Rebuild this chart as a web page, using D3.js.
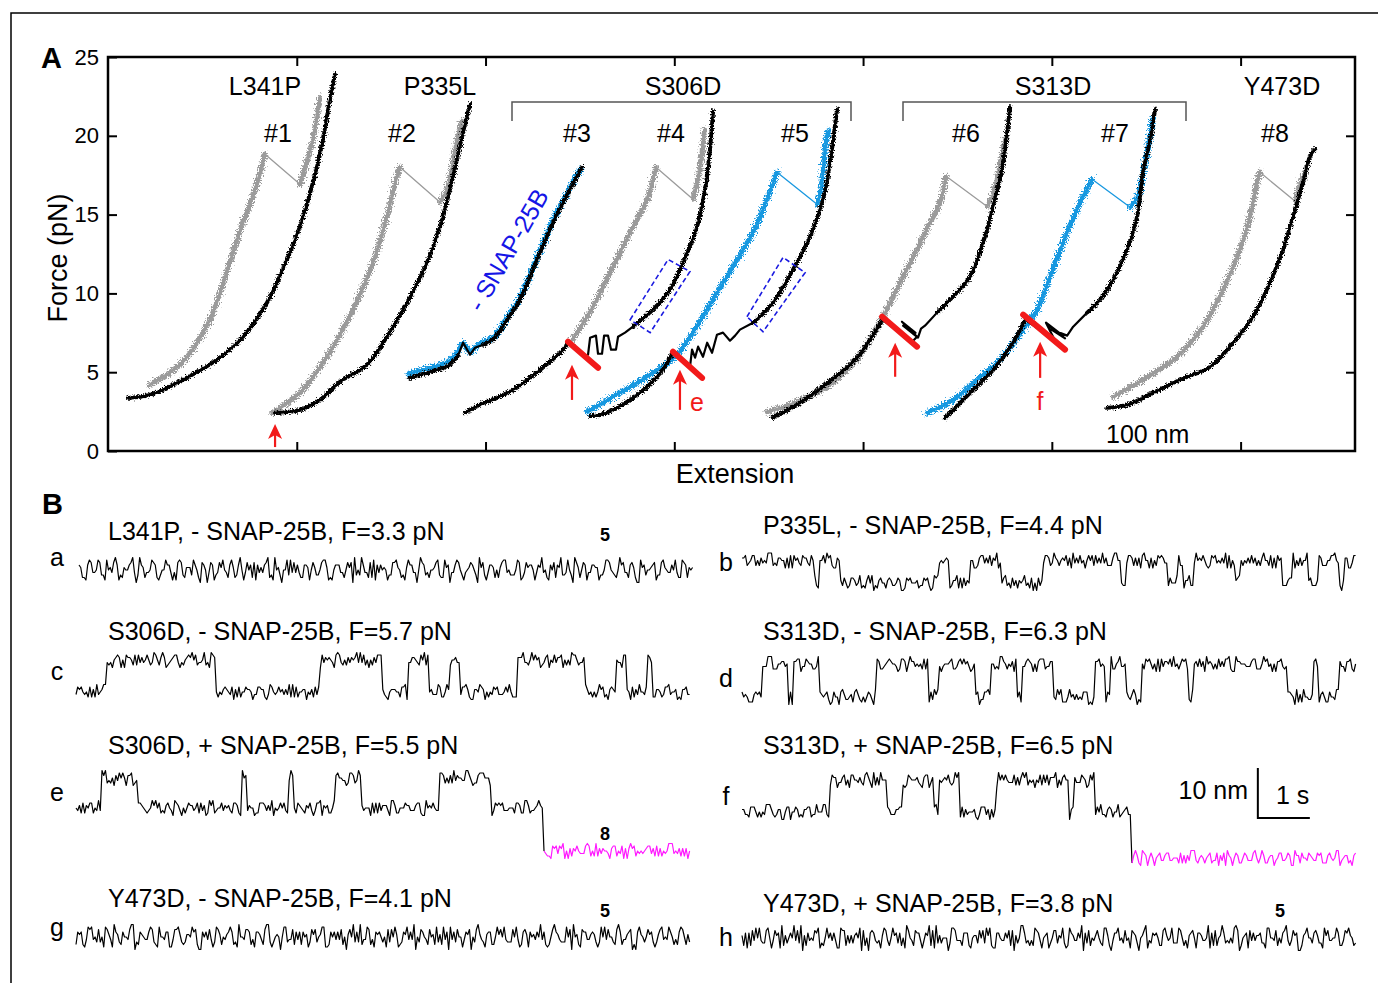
<!DOCTYPE html>
<html>
<head>
<meta charset="utf-8">
<script src="https://cdn.jsdelivr.net/npm/d3@7"></script>
<style>
  body { margin: 0; background: #fff; }
  text { font-family: "Liberation Sans", Arial, sans-serif; }
</style>
</head>
<body>
<div id="chart"></div>
<script>
// ---------- Panel A data: extension (nm) vs force (pN) ----------
const yTicks = [0, 5, 10, 15, 20, 25];
const xTicks = [100, 200, 300, 400, 500, 600];
const mutantLabels = ['L341P', 'P335L', 'S306D', 'S313D', 'Y473D'];
const curveLabels = ['#1', '#2', '#3', '#4', '#5', '#6', '#7', '#8'];

// pulling (black) traces: folded part, hopping part, unfolded part
const fec1Pull = [[10.6,3.37],[22.3,3.56],[39.7,4.52],[57.7,5.79],[71.5,7.25],[84.2,9.41],[94.8,12.15],[101.7,14.25],[108.6,17.05],[113.9,19.78],[117.6,22.33],[120.3,23.92]];
const fec2Pull = [[88.5,2.42],[101.7,2.61],[112.3,3.24],[122.9,4.39],[137.2,5.47],[147.8,7.25],[158.4,9.41],[169.0,11.96],[175.9,14.25],[182.8,17.43],[188.1,20.23],[191.8,22.01]];
const fec3PullA = [[160.0,4.64],[170.6,5.03],[180.1,5.41],[185.4,6.04]];
const fec3Hop = [[185.4,6.04],[188.1,6.87],[191.8,6.11],[194.4,6.55],[198.7,6.74]];
const fec3PullB = [[198.7,6.74],[205.0,7.19],[211.4,8.33],[218.3,9.61],[226.2,11.83],[235.8,14.50],[244.8,16.60],[251.1,18.00]];
const fec4PullA = [[189.1,2.42],[197.1,2.93],[214.6,3.88],[228.9,5.15],[241.1,6.43],[243.7,6.87]];
const fec4Hop = [[243.7,6.87],[252.7,5.98],[254.3,6.11],[255.4,7.19],[258.5,7.32],[259.6,6.17],[261.7,6.17],[262.8,7.32],[264.9,7.32],[266.5,6.43],[269.1,6.43],[270.2,7.25],[273.9,7.51],[278.1,7.89]];
const fec4PullB = [[278.1,7.89],[288.7,8.97],[297.7,10.24],[304.6,11.96],[312.1,14.25],[316.3,16.60],[318.9,19.15],[320.5,21.56]];
const fec5PullA = [[255.4,2.23],[260.7,2.29],[276.6,3.24],[290.9,4.71],[299.3,6.23]];
const fec5Hop = [[299.3,6.23],[308.3,5.34],[309.4,6.43],[311.0,5.92],[312.6,6.62],[315.2,5.98],[317.4,6.87],[320.0,6.23],[322.6,7.38],[325.8,7.51],[329.5,7.00],[332.2,7.32],[334.8,7.70],[341.7,8.14]];
const fec5PullB = [[341.7,8.14],[352.3,9.41],[362.9,11.51],[371.9,13.61],[378.8,15.97],[382.5,18.32],[386.2,21.69]];
const fec6PullA = [[351.8,2.10],[366.6,3.05],[382.5,4.45],[396.8,5.92],[410.1,8.33]];
const fec6Hop = [[410.1,8.33],[426.0,6.93],[428.6,7.25],[420.6,8.20],[427.8,7.50],[421.2,7.95],[429.1,7.20],[430.7,7.76],[432.8,7.95],[439.2,8.78]];
const fec6PullB = [[439.2,8.78],[444.5,9.41],[456.7,11.07],[463.6,13.23],[468.9,15.52],[473.6,17.88],[476.3,20.23],[477.9,21.82]];
const fec7PullA = [[443.4,2.10],[456.7,3.69],[468.9,5.15],[479.5,6.87],[485.8,8.33]];
const fec7Hop = [[485.8,8.33],[501.7,7.0],[496.9,8.14],[506.0,7.30],[498.0,7.95],[507.0,7.15],[499.8,7.70],[508.1,7.32],[511.3,7.89],[518.7,8.78]];
const fec7PullB = [[518.7,8.78],[525.6,9.61],[532.5,10.88],[539.9,12.79],[545.2,14.89],[548.3,17.68],[552.1,19.78],[554.7,21.69]];
const fec8Pull = [[529.3,2.74],[539.9,2.93],[553.6,3.69],[567.9,4.52],[583.8,5.34],[596.0,6.87],[606.6,8.52],[615.6,10.69],[622.5,12.79],[627.8,14.89],[633.1,17.05],[636.8,18.70],[639.5,19.15]];

// relaxing traces: part below the refolding jump, part above it
const fec1RelaxLow = [[22.3,4.20],[39.7,5.66],[54.0,8.33],[63.0,11.39],[69.9,13.93],[77.9,16.60],[83.2,18.83]];
const fec1RelaxHigh = [[101.7,16.92],[104.9,18.19],[108.6,19.78],[112.3,22.46]];
const fec2RelaxLow = [[86.9,2.42],[101.7,3.69],[116.0,5.98],[129.8,8.97],[140.4,11.96],[147.8,14.89],[153.1,17.43],[154.7,18.0]];
const fec2RelaxHigh = [[175.9,15.78],[179.6,16.60],[184.9,19.78],[187.5,20.93]];
const fec3RelaxLow = [[158.9,4.90],[170.6,5.28],[180.1,5.66],[185.4,6.30],[188.1,6.87],[191.8,6.30],[196.0,6.74],[205.0,7.32],[211.4,8.46],[218.3,9.73],[226.2,11.96],[235.8,14.63],[244.8,16.73],[250.0,17.87]];
const fec4RelaxLow = [[244.8,6.87],[255.4,8.84],[267.5,11.70],[276.6,13.87],[285.6,15.97],[290.3,18.00]];
const fec4RelaxHigh = [[309.9,15.97],[312.6,17.24],[316.3,20.42]];
const fec5RelaxLow = [[253.8,2.48],[267.5,3.44],[285.6,4.71],[300.4,5.98],[309.9,7.51],[320.5,9.61],[331.1,11.70],[341.7,13.87],[349.1,15.97],[354.4,17.68]];
const fec5RelaxHigh = [[375.6,15.65],[377.7,16.60],[380.9,19.97],[382.0,20.3]];
const fec6RelaxLow = [[349.1,2.48],[361.3,2.93],[382.5,4.20],[398.4,6.11],[410.6,8.52],[419.6,10.69],[428.6,12.79],[435.5,14.50],[440.8,15.78],[444.0,17.43]];
const fec6RelaxHigh = [[465.7,15.52],[468.9,16.28],[475.2,19.78]];
const fec7RelaxLow = [[433.9,2.42],[447.7,3.24],[460.4,4.52],[472.6,5.79],[484.8,7.70],[492.2,8.97],[499.1,11.07],[506.0,13.23],[513.4,15.33],[521.3,17.24]];
const fec7RelaxHigh = [[541.5,15.46],[545.2,16.09],[549.4,18.19],[553.6,21.18]];
const fec8RelaxLow = [[532.5,3.44],[548.3,4.52],[566.4,5.98],[580.1,7.89],[590.7,10.24],[599.7,12.79],[605.0,14.89],[608.7,17.05],[610.3,17.68]];
const fec8RelaxHigh = [[628.9,15.84],[631.5,16.92],[635.2,17.88]];

// annotations (nm, pN)
const unfoldMarks = [[[243.7,6.93],[259.6,5.28]], [[299.3,6.30],[314.7,4.64]], [[410.1,8.52],[428.6,6.62]], [[484.8,8.65],[507.0,6.43]]];
const arrowMarks = [[88.5,0.25,1.72], [245.8,3.24,5.47], [303.0,2.61,5.15], [417.0,4.71,6.87], [493.8,4.64,6.93]];
const dashedBoxes = [[[276.6,8.33],[296.7,12.15],[308.3,11.39],[287.2,7.51]], [[338.5,8.52],[357.6,12.28],[369.3,11.32],[347.0,7.57]]];

// ---------- Panel B data: time (s), extension levels (nm), noise (0.5 nm units) ----------
const stepsA = [[0,0]];
const stepsB = [[0,4.5],[1.4,0],[1.5,4.5],[1.9,0],[3.8,4.5],[4.0,0],[4.4,4.5],[5.0,0],[5.8,4.5],[7.3,0],[7.4,4.5],[8.2,0],[8.4,4.5],[8.5,0],[8.7,4.5],[9.5,0],[9.6,4.5],[10.4,0],[10.6,4.5],[10.9,0],[11.1,4.5],[11.5,0],[11.6,4.5]];
const stepsC = [[0,0],[0.6,6.4],[2.7,0],[4.7,6.4],[5.9,0],[6.4,6.4],[6.8,0],[7.2,6.4],[7.4,0],[8.5,6.4],[9.8,0],[10.4,6.4],[10.6,0],[11.0,6.4],[11.1,0]];
const stepsD = [[0,0],[0.4,6.6],[0.9,0],[1.0,6.6],[1.5,0],[2.6,6.6],[3.6,0],[3.8,6.6],[4.5,0],[4.8,6.6],[5.3,0],[5.4,6.6],[6.0,0],[6.8,6.6],[7.0,0],[7.1,6.6],[7.4,0],[7.7,6.6],[8.6,0],[8.7,6.6],[10.5,0],[11.0,6.6],[11.1,0],[11.5,6.6]];
const stepsE = [[0,0],[0.5,6],[1.2,0],[3.2,6],[3.3,0],[4.1,6],[4.2,0],[5.0,6],[5.5,0],[7.0,6],[8.0,0],[9.0,-8.6]];
const stepsF = [[0,0],[1.7,6.4],[2.8,0],[3.1,6.4],[3.7,0],[3.8,6.4],[4.2,0],[4.9,6.4],[6.3,0],[6.4,6.4],[6.8,0],[7.5,-9.2]];
const stepsG = [[0,0]];
const stepsH = [[0,0]];

const noiseA = [2,-3,4,-1,3,-4,1,5,-2,0, 3,-5,2,-1,4,-3,0,2,-4,3, -2,1,4,-3,2,-1,-4,3,0,2, -3,5,-1,2,-4,1,3,-2,0,-5, 4,-1,2,-3,1,3,-2,4,-4,0, 2,-3,1,5,-2,-1,3,-4,2,0, -2,4,-3,1,2,-5,3,-1,0,4, -3,2,-1,3,-4,1,0,5,-2,2, -3,1,4,-2,0,-4,3,2,-1,5, -3,0,2,-2,4,-5,1,3,-1,2, -4,0,3,-2,5,-1,2,-3,4,-2, 1,-4,3,0,2,-1,4,-3,1];
const noiseB = [1,-2,2,0,-1,3,-2,1,0,-3, 2,-1,1,-2,3,0,-1,2,-3,1, 0,2,-1,-2,1,3,-2,0,1,-1, 2,-3,1,0,-2,2,-1,3,-1,0, -2,1,2,-1,0,-3,2,1,-2,3, 0,-1,2,-2,1,0,-3,2,-1,1, 3,-2,0,1,-1,2,-3,0,2,-1, 1,-2,3,0,-1,1,-2,2,0,-3, 2,1,-1,0,2,-2,3,-1,1,0, -2,2,-1,3,-3,1,0,-1,2,-2, 1,0,-3,2,-1,1,3,-2,0,1, -1,2,-2,0,3,-1,1,-3,2];
const noiseC = [-1,2,0,-2,3,1,-1,-3,2,0, 1,-2,2,-1,0,3,-2,1,-1,2, -3,0,1,2,-1,-2,3,0,-1,1, 2,-2,0,1,-3,2,1,-1,0,2, -1,3,-2,0,1,-1,2,-3,1,0, 2,-1,-2,1,3,-1,0,-2,2,1, -3,1,0,2,-1,1,-2,3,0,-1, 2,0,-2,1,-1,3,-3,1,2,0, -1,2,-1,0,-2,1,3,-2,0,1, -1,-3,2,1,0,-2,2,-1,3,0, -2,1,-1,2,0,-3,1,2,-1,0, 2,-2,1,-1,3,0,-2,1,-1];
const noiseD = [2,0,-2,1,-1,3,-2,0,1,-3, 1,2,-1,0,-2,2,1,-3,0,2, -1,1,3,-2,0,-1,2,-2,1,0, -3,2,0,1,-1,2,-2,3,-1,0, 1,-2,2,0,-3,1,-1,2,0,-1, 3,-2,1,0,-1,2,-3,1,2,-1, 0,1,-2,3,-1,0,2,-2,1,-1, -2,3,0,-1,2,1,-3,0,1,-2, 2,-1,0,3,-2,1,-1,0,2,-3, 1,0,-1,2,-2,3,0,-1,1,-2, 0,2,-3,1,-1,2,0,-2,3,-1, 1,-2,0,2,-1,1,-3,2,0];
const noiseE = [0,-2,1,2,-1,3,-2,0,-1,2, 1,-3,2,0,-1,1,2,-2,0,3, -1,-2,1,0,2,-3,1,-1,2,0, -2,1,3,-1,0,-2,2,1,-3,0, 2,-1,0,1,-2,2,-1,3,0,-2, 1,0,-3,2,-1,1,0,2,-2,1, -1,3,-2,0,1,-1,2,-3,1,0, 2,-2,1,-1,0,3,-1,-2,2,0, -3,1,2,-1,0,2,-2,1,-1,3, 0,-2,1,2,-3,1,0,-1,2,-2, 3,-1,0,1,-2,2,-3,1,0,-1, 2,1,-2,0,3,-1,1,-2,0];
const noiseF = [1,-1,2,-2,0,3,-1,1,-3,2, 0,-2,1,2,-1,0,3,-2,1,-1, -2,2,0,-1,3,-3,1,0,2,-1, 1,-2,2,0,-1,1,-3,2,0,1, -1,3,-2,1,0,-2,2,-1,1,-3, 2,0,-1,1,3,-2,0,-1,2,-2, 1,0,2,-3,1,-1,0,2,-1,3, -2,1,0,-1,2,-2,1,3,-3,0, 1,-1,2,0,-2,1,-1,3,0,-2, 2,-1,1,-3,0,2,-2,1,-1,0, 3,-2,1,0,-1,2,-3,1,0,2, -1,1,-2,2,0,-3,1,-1,2];
const noiseG = [-3,2,-1,4,-2,0,3,-4,1,2, -1,5,-3,0,2,-2,4,-1,-4,3, 1,-2,0,3,-5,2,-1,4,-3,1, 2,-4,0,3,-1,2,-3,5,-2,0, 4,-1,-3,2,0,-2,3,1,-4,2, -1,3,-5,0,2,-3,4,-1,1,-2, 3,0,-4,2,-1,5,-2,0,3,-3, 1,-1,4,-2,0,2,-5,3,-1,1, -3,4,0,-2,3,-1,2,-4,1,0, 2,-3,5,-1,-2,3,0,-4,2,1, -2,4,-1,0,3,-3,1,-5,2,0, 3,-2,1,-1,4,-3,2,0,-2];
const noiseH = [1,-4,3,0,-2,4,-1,2,-3,0, 5,-2,1,-1,3,-4,0,2,-1,4, -3,1,2,-5,0,3,-2,1,-1,4, -2,0,3,-3,2,-1,5,-4,1,0, -2,3,-1,2,-4,1,0,4,-3,2, -1,0,3,-2,5,-1,-3,2,0,-4, 3,1,-2,4,-1,0,2,-3,1,-2, 4,-5,2,0,-1,3,-2,1,-4,2, 0,3,-1,-2,4,-3,1,0,2,-1, -4,3,1,-2,0,5,-3,2,-1,1, -2,4,0,-3,2,-1,3,-5,1,0, 2,-2,4,-1,0,-3,3,1,-2];

const traceTitles = ['L341P, - SNAP-25B, F=3.3 pN', 'P335L, - SNAP-25B, F=4.4 pN', 'S306D, - SNAP-25B, F=5.7 pN', 'S313D, - SNAP-25B, F=6.3 pN',
                     'S306D, + SNAP-25B, F=5.5 pN', 'S313D, + SNAP-25B, F=6.5 pN', 'Y473D, - SNAP-25B, F=4.1 pN', 'Y473D, + SNAP-25B, F=3.8 pN'];
const traceLetters = ['a', 'b', 'c', 'd', 'e', 'f', 'g', 'h'];
const magentaFrom = {e: 9.0, f: 7.5};
const TRACE_DURATION = 11.8; // s
const NOISE_UNIT = 0.5;      // nm

// ---------- drawing ----------
const GRAY = '#9b9b9b', BLUE = '#1898e0', RED = '#f21a1a', MAGENTA = '#ff1aff';
const svg = d3.select('#chart').append('svg').attr('width', 1378).attr('height', 983);
const defs = svg.append('defs');
function roughFilter(id, scale, seed) {
  const f = defs.append('filter').attr('id', id)
    .attr('x', '-10%').attr('y', '-10%').attr('width', '120%').attr('height', '120%');
  f.append('feTurbulence').attr('type', 'fractalNoise').attr('baseFrequency', 0.7)
    .attr('numOctaves', 2).attr('seed', seed).attr('result', 'n');
  f.append('feDisplacementMap').attr('in', 'SourceGraphic').attr('in2', 'n')
    .attr('scale', scale).attr('xChannelSelector', 'R').attr('yChannelSelector', 'G');
}
roughFilter('roughBlack', 6, 2);
roughFilter('roughRelax', 10, 5);

// figure border (top and left only)
svg.append('path').attr('d', 'M11,983V13H1378').attr('fill', 'none').attr('stroke', '#000').attr('stroke-width', 1.5);

// panel letters
svg.append('text').attr('x', 41).attr('y', 68).attr('font-size', 29).attr('font-weight', 'bold').text('A');
svg.append('text').attr('x', 42).attr('y', 514).attr('font-size', 29).attr('font-weight', 'bold').text('B');

// ----- Panel A -----
const plotL = 108, plotR = 1355, plotT = 57, plotB = 451;
const x = d3.scaleLinear().domain([0, 660.6]).range([plotL, plotR]);
const y = d3.scaleLinear().domain([0, 25]).range([plotB, plotT]);
const gA = svg.append('g');

const styleAxis = (g) => {
  g.select('.domain').remove();
  g.selectAll('.tick line').attr('stroke-width', 2);
  g.selectAll('.tick text').attr('font-size', 22).attr('fill', '#000')
    .style('font-family', '"Liberation Sans", Arial, sans-serif');
};
gA.append('g').attr('transform', `translate(${plotL},0)`)
  .call(d3.axisLeft(y).tickValues(yTicks).tickSize(-9).tickPadding(9)).call(styleAxis);
gA.append('g').attr('transform', `translate(${plotR},0)`)
  .call(d3.axisRight(y).tickValues(yTicks.slice(1, -1)).tickSize(-9).tickFormat('')).call(styleAxis);
gA.append('g').attr('transform', `translate(0,${plotB})`)
  .call(d3.axisBottom(x).tickValues(xTicks).tickSize(-9).tickFormat('')).call(styleAxis);
gA.append('g').attr('transform', `translate(0,${plotT})`)
  .call(d3.axisTop(x).tickValues(xTicks).tickSize(-9).tickFormat('')).call(styleAxis);
gA.append('rect').attr('x', plotL).attr('y', plotT).attr('width', plotR - plotL).attr('height', plotB - plotT)
  .attr('fill', 'none').attr('stroke', '#000').attr('stroke-width', 2.5);

gA.append('text').attr('transform', 'translate(67,258) rotate(-90)').attr('text-anchor', 'middle')
  .attr('font-size', 27).text('Force (pN)');
gA.append('text').attr('x', 735).attr('y', 483).attr('text-anchor', 'middle').attr('font-size', 27).text('Extension');

const smooth = d3.line().x(d => x(d[0])).y(d => y(d[1])).curve(d3.curveCatmullRom.alpha(0.5));
const straight = d3.line().x(d => x(d[0])).y(d => y(d[1]));
const fecs = [
  {pullA: fec1Pull,  hop: [],      pullB: [],        low: fec1RelaxLow, high: fec1RelaxHigh, color: GRAY},
  {pullA: fec2Pull,  hop: [],      pullB: [],        low: fec2RelaxLow, high: fec2RelaxHigh, color: GRAY},
  {pullA: fec3PullA, hop: fec3Hop, pullB: fec3PullB, low: fec3RelaxLow, high: [],            color: BLUE},
  {pullA: fec4PullA, hop: fec4Hop, pullB: fec4PullB, low: fec4RelaxLow, high: fec4RelaxHigh, color: GRAY},
  {pullA: fec5PullA, hop: fec5Hop, pullB: fec5PullB, low: fec5RelaxLow, high: fec5RelaxHigh, color: BLUE},
  {pullA: fec6PullA, hop: fec6Hop, pullB: fec6PullB, low: fec6RelaxLow, high: fec6RelaxHigh, color: GRAY},
  {pullA: fec7PullA, hop: fec7Hop, pullB: fec7PullB, low: fec7RelaxLow, high: fec7RelaxHigh, color: BLUE},
  {pullA: fec8Pull,  hop: [],      pullB: [],        low: fec8RelaxLow, high: fec8RelaxHigh, color: GRAY}
];
const curves = gA.append('g').attr('fill', 'none').attr('stroke-linejoin', 'round').attr('stroke-linecap', 'round');
// a solid core plus a roughened outer stroke gives the noisy band look
const band = (seg, color, core, outer, filter) => {
  curves.append('path').attr('d', smooth(seg)).attr('stroke', color).attr('stroke-width', core);
  curves.append('path').attr('d', smooth(seg)).attr('stroke', color).attr('stroke-width', outer).attr('filter', filter);
};
fecs.forEach(f => {
  band(f.low, f.color, 2.8, 5.4, 'url(#roughRelax)');
  if (f.high.length) {
    band(f.high, f.color, 2.8, 5.4, 'url(#roughRelax)');
    const a = f.low[f.low.length - 1], b = f.high[0];
    curves.append('line').attr('x1', x(a[0])).attr('y1', y(a[1])).attr('x2', x(b[0])).attr('y2', y(b[1]))
      .attr('stroke', f.color).attr('stroke-width', 1.3);
  }
  [f.pullA, f.pullB].filter(s => s.length).forEach(s => band(s, '#000', 2.3, 4.0, 'url(#roughBlack)'));
  if (f.hop.length) curves.append('path').attr('d', straight(f.hop)).attr('stroke', '#000').attr('stroke-width', 2.2);
});

// dashed boxes
gA.selectAll('.box').data(dashedBoxes).join('path')
  .attr('d', d => 'M' + d.map(p => [x(p[0]), y(p[1])].join(',')).join('L') + 'Z')
  .attr('fill', 'none').attr('stroke', '#1a1ae0').attr('stroke-width', 1.6).attr('stroke-dasharray', '5,3');

// red unfolding marks
gA.selectAll('.mark').data(unfoldMarks).join('line')
  .attr('x1', d => x(d[0][0])).attr('y1', d => y(d[0][1]))
  .attr('x2', d => x(d[1][0])).attr('y2', d => y(d[1][1]))
  .attr('stroke', RED).attr('stroke-width', 6).attr('stroke-linecap', 'round');

// red arrows
arrowMarks.forEach(([nm, f0, f1]) => {
  const ax = x(nm), y0 = y(f0), y1 = y(f1);
  gA.append('line').attr('x1', ax).attr('y1', y0).attr('x2', ax).attr('y2', y1 + 8)
    .attr('stroke', RED).attr('stroke-width', 2.2);
  gA.append('path').attr('d', `M${ax},${y1}L${ax - 7},${y1 + 15}L${ax},${y1 + 11}L${ax + 7},${y1 + 15}Z`).attr('fill', RED);
});
gA.append('text').attr('x', 690).attr('y', 411).attr('font-size', 25).attr('fill', RED).text('e');
gA.append('text').attr('x', 1040).attr('y', 410).attr('text-anchor', 'middle').attr('font-size', 25).attr('fill', RED).text('f');

// labels
const mutantX = [265, 440, 683, 1053, 1282];
mutantLabels.forEach((t, i) => gA.append('text').attr('x', mutantX[i]).attr('y', 95)
  .attr('text-anchor', 'middle').attr('font-size', 25).text(t));
const curveLabelX = [278, 402, 577, 671, 795, 966, 1115, 1275];
curveLabels.forEach((t, i) => gA.append('text').attr('x', curveLabelX[i]).attr('y', 142)
  .attr('text-anchor', 'middle').attr('font-size', 25).text(t));
[[512, 851], [903, 1186]].forEach(([a, b]) => gA.append('path')
  .attr('d', `M${a},121V102H${b}V121`).attr('fill', 'none').attr('stroke', '#555').attr('stroke-width', 1.5));
gA.append('text').attr('transform', 'translate(508,250) rotate(-60)').attr('text-anchor', 'middle')
  .attr('dy', '0.35em').attr('font-size', 25).attr('fill', '#1515e6').text('- SNAP-25B');
gA.append('text').attr('x', 1106).attr('y', 443).attr('font-size', 25).text('100 nm');

// ----- Panel B -----
// each trace: samples every dt from its own noise list, plus two in-between samples from two other lists
const traces = [
  {steps: stepsA, noise: [noiseA, noiseH, noiseG], x0: 79,  base: 570, lx: 57,  ly: 566, ty: 540},
  {steps: stepsB, noise: [noiseB, noiseF, noiseD], x0: 742, base: 583, lx: 726, ly: 571, ty: 534},
  {steps: stepsC, noise: [noiseC, noiseD, noiseF], x0: 76,  base: 692, lx: 57,  ly: 680, ty: 640},
  {steps: stepsD, noise: [noiseD, noiseE, noiseB], x0: 742, base: 697, lx: 726, ly: 687, ty: 640},
  {steps: stepsE, noise: [noiseE, noiseC, noiseB], x0: 76,  base: 808, lx: 57,  ly: 801, ty: 754},
  {steps: stepsF, noise: [noiseF, noiseB, noiseC], x0: 742, base: 812, lx: 726, ly: 805, ty: 754},
  {steps: stepsG, noise: [noiseG, noiseA, noiseH], x0: 76,  base: 937, lx: 57,  ly: 936, ty: 907},
  {steps: stepsH, noise: [noiseH, noiseG, noiseA], x0: 742, base: 938, lx: 726, ly: 946, ty: 912}
];
const gB = svg.append('g');
const levelAt = (steps, t) => {
  let v = steps[0][1];
  steps.forEach(s => { if (s[0] <= t + 1e-6) v = s[1]; });
  return v;
};
let fScales = null;
traces.forEach((tr, i) => {
  const letter = traceLetters[i];
  const tx = d3.scaleLinear().domain([0, TRACE_DURATION]).range([tr.x0, tr.x0 + TRACE_DURATION * 52]);
  const ty = d3.scaleLinear().domain([0, 10]).range([tr.base, tr.base - 50]);
  if (letter === 'f') fScales = {tx, ty};
  const [main, sub1, sub2] = tr.noise;
  const n = main.length;
  const dt = TRACE_DURATION / (n - 1);
  const pts = [];
  main.forEach((v, k) => {
    pts.push([k * dt, levelAt(tr.steps, k * dt) + v * NOISE_UNIT]);
    if (k < n - 1) {
      [[1 / 3, sub1[k]], [2 / 3, sub2[k]]].forEach(([fr, w]) => {
        const tm = (k + fr) * dt;
        pts.push([tm, levelAt(tr.steps, tm) + w * NOISE_UNIT]);
      });
    }
  });
  const tl = d3.line().x(d => tx(d[0])).y(d => ty(d[1]));
  const mFrom = magentaFrom[letter];
  const cut = mFrom === undefined ? pts.length : pts.findIndex(p => p[0] >= mFrom - 1e-6);
  gB.append('path').attr('d', tl(pts.slice(0, cut + 1))).attr('fill', 'none').attr('stroke', '#000')
    .attr('stroke-width', 1.2).attr('stroke-linejoin', 'round');
  if (cut < pts.length) gB.append('path').attr('d', tl(pts.slice(cut))).attr('fill', 'none').attr('stroke', MAGENTA)
    .attr('stroke-width', 1.2).attr('stroke-linejoin', 'round');
  gB.append('text').attr('x', tr.lx).attr('y', tr.ly).attr('text-anchor', 'middle').attr('font-size', 25).text(letter);
  gB.append('text').attr('x', tr.x0 < 400 ? 108 : 763).attr('y', tr.ty).attr('font-size', 25).text(traceTitles[i]);
});

// small bold numbers
[[605, 541, '5'], [605, 840, '8'], [605, 917, '5'], [1280, 917, '5']].forEach(([bx, by, t]) =>
  gB.append('text').attr('x', bx).attr('y', by).attr('text-anchor', 'middle')
    .attr('font-size', 18).attr('font-weight', 'bold').text(t));

// scale bar (10 nm, 1 s) on trace f
const sbT = 9.92, sbN = -1.2;
gB.append('path').attr('d', `M${fScales.tx(sbT)},${fScales.ty(sbN + 10)}V${fScales.ty(sbN)}H${fScales.tx(sbT + 1)}`)
  .attr('fill', 'none').attr('stroke', '#000').attr('stroke-width', 2);
gB.append('text').attr('x', 1248).attr('y', 799).attr('text-anchor', 'end').attr('font-size', 25).text('10 nm');
gB.append('text').attr('x', 1276).attr('y', 804).attr('font-size', 25).text('1 s');
</script>
</body>
</html>
